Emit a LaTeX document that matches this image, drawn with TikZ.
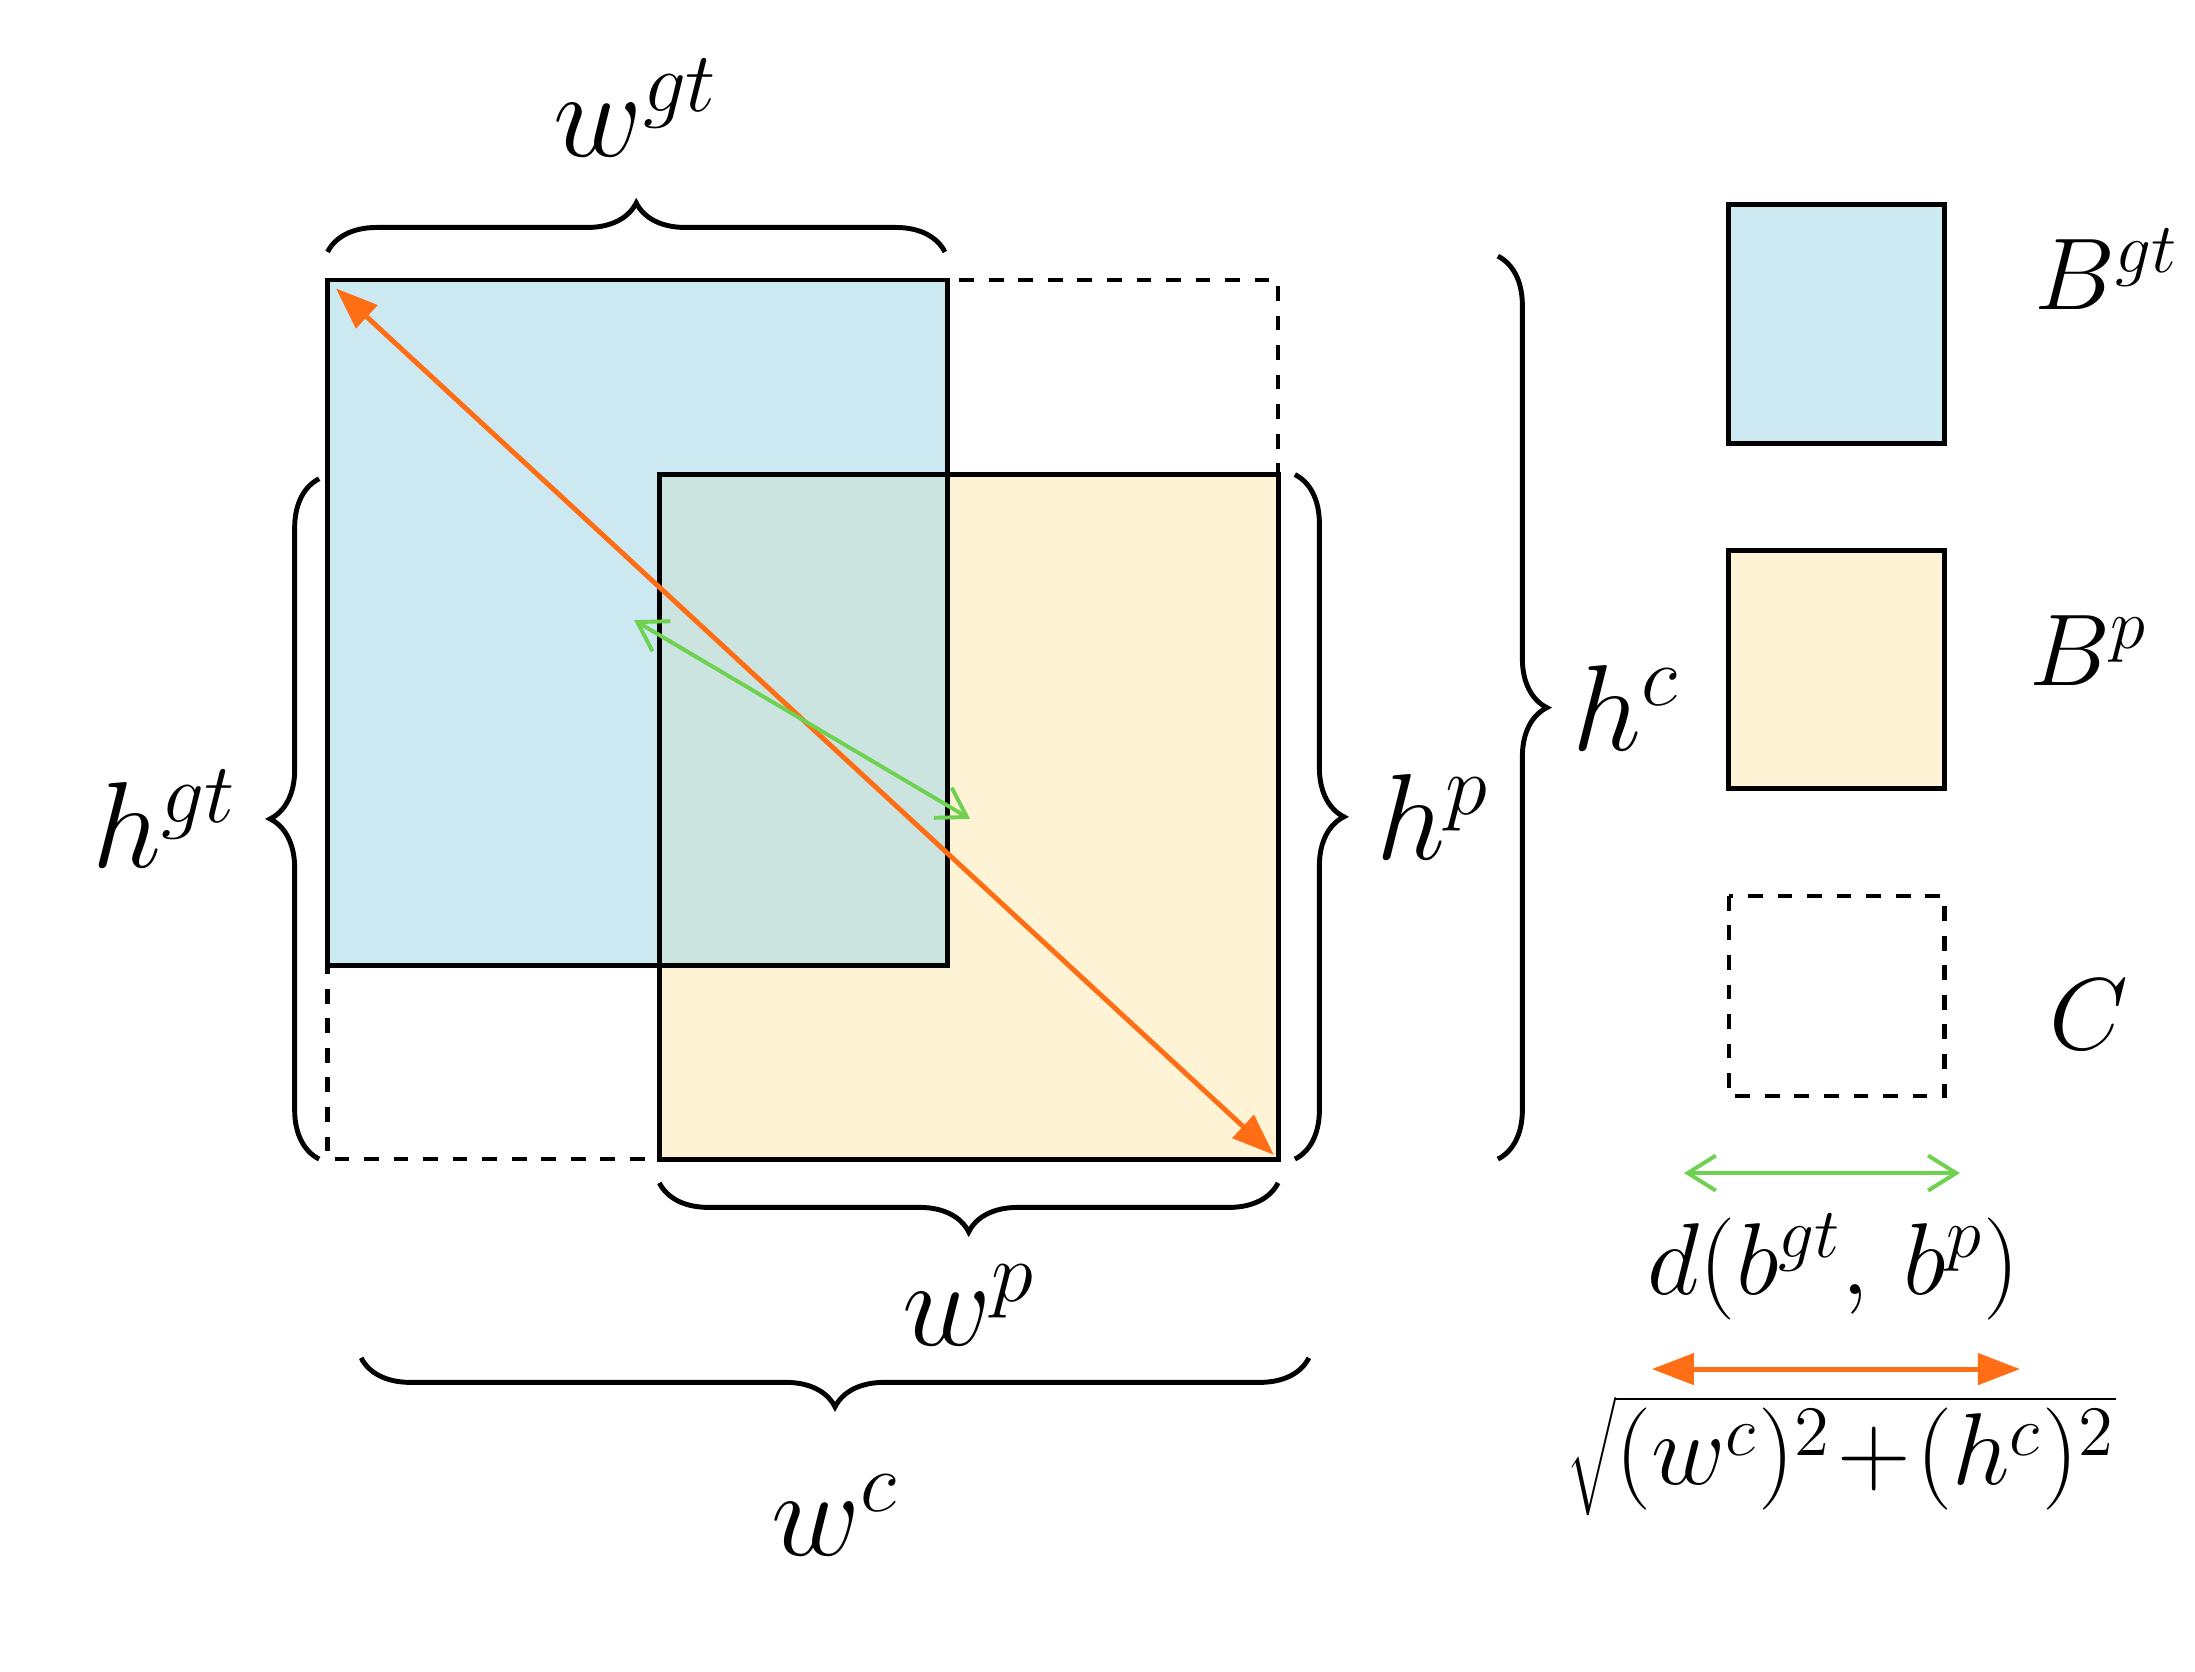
\documentclass[tikz,border=0pt]{standalone}
\usetikzlibrary{decorations.pathreplacing,arrows.meta}
\begin{document}
\begin{tikzpicture}[x=0.01cm,y=-0.01cm,
  br/.style={decorate,decoration={brace,amplitude=0.35cm,raise=0pt},line width=1pt},
  big/.style={font=\fontsize{27}{30}\selectfont},
  lab/.style={font=\fontsize{20}{24}\selectfont},
  org/.style={draw={rgb,255:red,255;green,110;blue,20},line width=1pt,{Triangle[length=0.3cm,width=0.22cm]}-{Triangle[length=0.3cm,width=0.22cm]}},
  grn/.style={draw={rgb,255:red,110;green,210;blue,80},line width=0.8pt,{Straight Barb[length=0.2cm,width=0.25cm]}-{Straight Barb[length=0.2cm,width=0.25cm]}}]
\definecolor{bl}{RGB}{205,234,242}
\definecolor{bls}{RGB}{170,218,232}
\definecolor{ye}{RGB}{255,243,214}
\useasboundingbox (0,0) rectangle (1568,1194);
% boxes
\fill[ye] (471,339) rectangle (913,828);
\fill[bls,fill opacity=0.6] (234,200) rectangle (677,690);
\draw[line width=1pt] (234,200) rectangle (677,690);
\draw[line width=1pt] (471,339) rectangle (913,828);
\draw[dashed,line width=0.9pt] (234,200) rectangle (913,828);
\coordinate (o1) at (240,206); \coordinate (o2) at (910,825);
\draw[org] (o1) -- (o2);
\coordinate (g1) at (453,443); \coordinate (g2) at (693,585);
\draw[grn] (g1) -- (g2);
% braces
\draw[br] (234,180) -- (675,180) node[midway,above=0.55cm,big] (wgt) {$w^{gt}$};
\draw[br] (228,828) -- (228,342) node[midway,left=0.45cm,big] (hgt) {$h^{gt}$};
\draw[br] (925,339) -- (925,828) node[midway,right=0.45cm,big] (hp) {$h^{p}$};
\draw[br] (1070,183) -- (1070,828) node[midway,right=0.4cm,big] (hc) {$h^{c}$};
\draw[br] (913,845) -- (471,845) node[midway,below=0.45cm,big] (wp) {$w^{p}$};
\draw[br] (935,970) -- (258,970) node[midway,below=0.7cm,big] (wc) {$w^{c}$};
% legend
\draw[fill=bl,line width=1pt] (1235,146) rectangle (1389,317);
\node[lab] (lbgt) at (1505,192) {$B^{gt}$};
\draw[fill=ye,line width=1pt] (1235,393) rectangle (1389,563);
\node[lab] (lbp) at (1492,465) {$B^{p}$};
\draw[dashed,line width=0.9pt] (1235,640) rectangle (1389,783);
\node[lab] (lc) at (1492,725) {$C$};
\coordinate (lg1) at (1203,838); \coordinate (lg2) at (1400,838);
\draw[grn] (lg1) -- (lg2);
\node[lab] (ld) at (1310,905) {$d(b^{gt},\,b^{p})$};
\coordinate (lo1) at (1180,978); \coordinate (lo2) at (1443,978);
\draw[org] (lo1) -- (lo2);
\node[lab] (ls) at (1315,1040) {$\sqrt{(w^{c})^2\!+\!(h^{c})^2}$};
\end{tikzpicture}
\end{document}
